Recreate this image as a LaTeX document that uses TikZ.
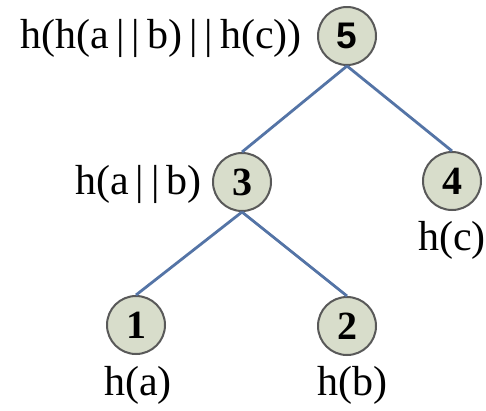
\documentclass[tikz,border=0pt]{standalone}
\usepackage{fontspec}
\setmainfont{Liberation Serif}
\newfontfamily\numsans{Liberation Sans}
\begin{document}
\begin{tikzpicture}[x=1pt,y=-1pt,
  hnode/.style={circle,draw=black!65,line width=2pt,fill=nodefill,minimum size=58pt,inner sep=0pt,font=\fontsize{40}{42}\selectfont\bfseries},
  lbl/.style={font=\fontsize{42}{44}\selectfont,inner sep=0pt},
  edge/.style={draw=edgeblue,line width=2.8pt}]
\definecolor{nodefill}{RGB}{216,221,203}
\definecolor{edgeblue}{RGB}{84,116,166}
\useasboundingbox (0,0) rectangle (486,410);
\fill[white] (0,0) rectangle (486,410);
\node[hnode,font=\fontsize{37}{39}\selectfont\numsans\bfseries] (n5) at (347,36) {5};
\node[hnode] (n3) at (242,182) {3};
\node[hnode] (n4) at (452,181) {4};
\node[hnode] (n1) at (136,325) {1};
\node[hnode] (n2) at (347,326) {2};
\draw[edge] (n5.south) -- (n3.north);
\draw[edge] (n5.south) -- (n4.north);
\draw[edge] (n3.south) -- (n1.north);
\draw[edge] (n3.south) -- (n2.north);
\node[lbl,anchor=east] (l5) at (302,38) {h(h(a\,|\,|\,b)\,|\,|\,h(c))};
\node[lbl,anchor=east] (l3) at (202,184) {h(a\,|\,|\,b)};
\node[lbl] (l4) at (452,240) {h(c)};
\node[lbl] (l1) at (138,385) {h(a)};
\node[lbl] (l2) at (352,385) {h(b)};
\end{tikzpicture}
\end{document}
